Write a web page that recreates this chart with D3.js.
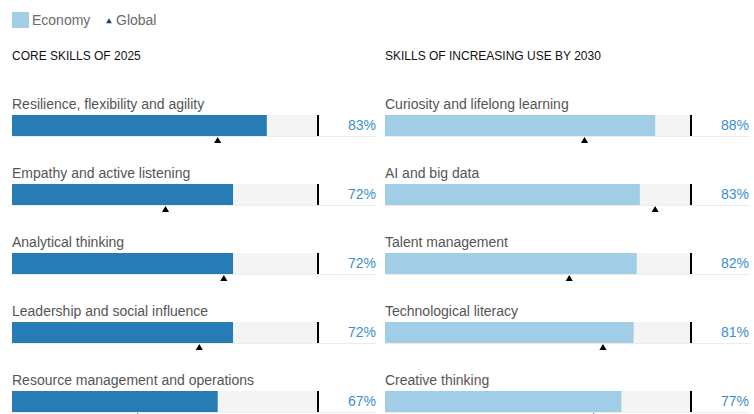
<!DOCTYPE html>
<html>
<head>
<meta charset="utf-8">
<script src="https://cdn.jsdelivr.net/npm/d3@7"></script>
<style>
  html, body { margin: 0; padding: 0; background: #fff; }
  svg { display: block; font-family: "Liberation Sans", Arial, Helvetica, sans-serif; }
</style>
</head>
<body>
<svg id="chart" width="754" height="414"></svg>
<script>
// ---- data ----
const panelTitles = ["CORE SKILLS OF 2025", "SKILLS OF INCREASING USE BY 2030"];
const coreSkills = ["Resilience, flexibility and agility", "Empathy and active listening", "Analytical thinking", "Leadership and social influence", "Resource management and operations"];
const coreEconomy = [0.83, 0.72, 0.72, 0.72, 0.67];
const coreGlobal = [0.67, 0.50, 0.69, 0.61, 0.41];
const risingSkills = ["Curiosity and lifelong learning", "AI and big data", "Talent management", "Technological literacy", "Creative thinking"];
const risingEconomy = [0.88, 0.83, 0.82, 0.81, 0.77];
const risingGlobal = [0.65, 0.88, 0.60, 0.71, 0.68];
const legendLabels = ["Economy", "Global"];

const panels = [
  { title: panelTitles[0], skills: coreSkills, economy: coreEconomy, global: coreGlobal, x0: 12, color: "#277cb6" },
  { title: panelTitles[1], skills: risingSkills, economy: risingEconomy, global: risingGlobal, x0: 385, color: "#a1cde6" }
];

const svg = d3.select("#chart");

// ---- legend ----
const lg = svg.append("g");
lg.append("rect").attr("x", 12).attr("y", 12).attr("width", 17).attr("height", 16).attr("fill", "#a1cde6");
lg.append("text").attr("x", 32).attr("y", 25).attr("font-size", 14).attr("fill", "#6b6b6b").text(legendLabels[0]);
lg.append("path").attr("d", d3.symbol().type(d3.symbolTriangle).size(14)()).attr("transform", "translate(109,21.5)").attr("fill", "#1f3d6e");
lg.append("text").attr("x", 116).attr("y", 25).attr("font-size", 14).attr("fill", "#6b6b6b").text(legendLabels[1]);

const trackW = 307;
const rowStep = 69;
const firstBarY = 115;
const barH = 21;

panels.forEach(p => {
  const g = svg.append("g");
  g.append("text").attr("x", p.x0).attr("y", 60).attr("font-size", 12).attr("fill", "#111").text(p.title);

  const x = d3.scaleLinear().domain([0, 1]).range([p.x0, p.x0 + trackW]);
  const y = d3.scaleBand().domain(d3.range(p.skills.length)).range([firstBarY, firstBarY + rowStep * p.skills.length]).paddingInner(0);

  const rows = g.selectAll("g.row").data(p.skills).join("g").attr("class", "row")
    .attr("transform", (d, i) => `translate(0,${y(i)})`);

  rows.append("text").attr("x", p.x0).attr("y", -6).attr("font-size", 14).attr("fill", "#555").text(d => d);

  // underline
  rows.append("line").attr("x1", p.x0).attr("x2", p.x0 + 365).attr("y1", barH + 0.5).attr("y2", barH + 0.5)
    .attr("stroke", "#ececec").attr("stroke-width", 1);
  // track
  rows.append("rect").attr("x", x(0)).attr("y", 0).attr("width", x(1) - x(0)).attr("height", barH).attr("fill", "#f4f4f4");
  // bar
  rows.append("rect").attr("x", x(0)).attr("y", 0).attr("width", (d, i) => x(p.economy[i]) - x(0)).attr("height", barH).attr("fill", p.color);
  // 100% marker
  rows.append("rect").attr("x", x(1) - 2).attr("y", 0).attr("width", 2).attr("height", barH).attr("fill", "#000");
  // value
  rows.append("text").attr("x", p.x0 + 364).attr("y", 14.5).attr("text-anchor", "end").attr("font-size", 14)
    .attr("fill", "#3a8fcc").text((d, i) => d3.format(".0%")(p.economy[i]));
  // global triangle
  rows.append("path").attr("d", d3.symbol().type(d3.symbolTriangle).size(22)())
    .attr("transform", (d, i) => `translate(${x(p.global[i])},${barH + 5})`).attr("fill", "#000");
});
</script>
</body>
</html>
